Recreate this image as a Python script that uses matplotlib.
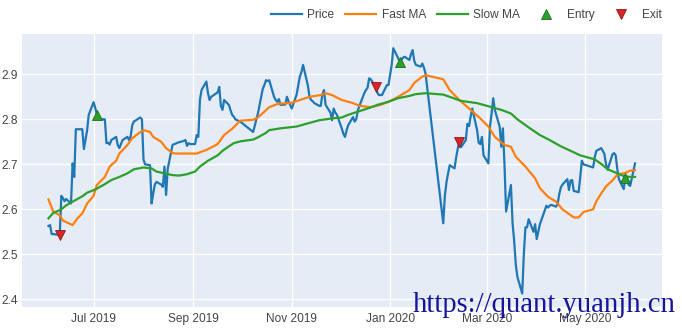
import matplotlib
matplotlib.use("Agg")
import matplotlib.pyplot as plt
import matplotlib.dates as mdates
from matplotlib.lines import Line2D
import pandas as pd

price_dates = [
    "2019-06-03", "2019-06-04", "2019-06-05", "2019-06-06", "2019-06-10", "2019-06-11", "2019-06-12",
    "2019-06-13", "2019-06-14", "2019-06-17", "2019-06-18", "2019-06-19", "2019-06-20", "2019-06-21",
    "2019-06-24", "2019-06-25", "2019-06-26", "2019-06-27", "2019-06-28", "2019-07-01", "2019-07-02",
    "2019-07-03", "2019-07-04", "2019-07-05", "2019-07-08", "2019-07-09", "2019-07-10", "2019-07-11",
    "2019-07-12", "2019-07-15", "2019-07-16", "2019-07-17", "2019-07-18", "2019-07-19", "2019-07-22",
    "2019-07-23", "2019-07-24", "2019-07-25", "2019-07-26", "2019-07-29", "2019-07-30", "2019-07-31",
    "2019-08-01", "2019-08-02", "2019-08-05", "2019-08-06", "2019-08-07", "2019-08-08", "2019-08-09",
    "2019-08-12", "2019-08-13", "2019-08-14", "2019-08-15", "2019-08-16", "2019-08-19", "2019-08-20",
    "2019-08-21", "2019-08-22", "2019-08-23", "2019-08-26", "2019-08-27", "2019-08-28", "2019-08-29",
    "2019-08-30", "2019-09-02", "2019-09-03", "2019-09-04", "2019-09-05", "2019-09-06", "2019-09-09",
    "2019-09-10", "2019-09-11", "2019-09-12", "2019-09-16", "2019-09-17", "2019-09-18", "2019-09-19",
    "2019-09-20", "2019-09-23", "2019-09-24", "2019-09-25", "2019-09-26", "2019-09-27", "2019-09-30",
    "2019-10-08", "2019-10-09", "2019-10-10", "2019-10-11", "2019-10-14", "2019-10-15", "2019-10-16",
    "2019-10-17", "2019-10-18", "2019-10-21", "2019-10-22", "2019-10-23", "2019-10-24", "2019-10-25",
    "2019-10-28", "2019-10-29", "2019-10-30", "2019-10-31", "2019-11-01", "2019-11-04", "2019-11-05",
    "2019-11-06", "2019-11-07", "2019-11-08", "2019-11-11", "2019-11-12", "2019-11-13", "2019-11-14",
    "2019-11-15", "2019-11-18", "2019-11-19", "2019-11-20", "2019-11-21", "2019-11-22", "2019-11-25",
    "2019-11-26", "2019-11-27", "2019-11-28", "2019-11-29", "2019-12-02", "2019-12-03", "2019-12-04",
    "2019-12-05", "2019-12-06", "2019-12-09", "2019-12-10", "2019-12-11", "2019-12-12", "2019-12-13",
    "2019-12-16", "2019-12-17", "2019-12-18", "2019-12-19", "2019-12-20", "2019-12-23", "2019-12-24",
    "2019-12-25", "2019-12-26", "2019-12-27", "2019-12-30", "2019-12-31", "2020-01-02", "2020-01-03",
    "2020-01-06", "2020-01-07", "2020-01-08", "2020-01-09", "2020-01-10", "2020-01-13", "2020-01-14",
    "2020-01-15", "2020-01-16", "2020-01-17", "2020-01-20", "2020-01-21", "2020-01-22", "2020-01-23",
    "2020-02-03", "2020-02-04", "2020-02-05", "2020-02-06", "2020-02-07", "2020-02-10", "2020-02-11",
    "2020-02-12", "2020-02-13", "2020-02-14", "2020-02-17", "2020-02-18", "2020-02-19", "2020-02-20",
    "2020-02-21", "2020-02-24", "2020-02-25", "2020-02-26", "2020-02-27", "2020-02-28", "2020-03-02",
    "2020-03-03", "2020-03-04", "2020-03-05", "2020-03-06", "2020-03-09", "2020-03-10", "2020-03-11",
    "2020-03-12", "2020-03-13", "2020-03-16", "2020-03-17", "2020-03-18", "2020-03-19", "2020-03-20",
    "2020-03-23", "2020-03-24", "2020-03-25", "2020-03-26", "2020-03-27", "2020-03-30", "2020-03-31",
    "2020-04-01", "2020-04-02", "2020-04-03", "2020-04-07", "2020-04-08", "2020-04-09", "2020-04-10",
    "2020-04-13", "2020-04-14", "2020-04-15", "2020-04-16", "2020-04-17", "2020-04-20", "2020-04-21",
    "2020-04-22", "2020-04-23", "2020-04-24", "2020-04-27", "2020-04-28", "2020-04-29", "2020-04-30",
    "2020-05-06", "2020-05-07", "2020-05-08", "2020-05-11", "2020-05-12", "2020-05-13", "2020-05-14",
    "2020-05-15", "2020-05-18", "2020-05-19", "2020-05-20", "2020-05-21", "2020-05-22", "2020-05-25",
    "2020-05-26", "2020-05-27", "2020-05-28", "2020-05-29", "2020-06-01",
]
price_values = [
    2.563, 2.565, 2.545, 2.545, 2.543, 2.630, 2.625,
    2.618, 2.623, 2.613, 2.702, 2.672, 2.778, 2.778,
    2.778, 2.734, 2.755, 2.776, 2.810, 2.838, 2.826,
    2.810, 2.800, 2.800, 2.800, 2.747, 2.748, 2.744,
    2.754, 2.761, 2.743, 2.736, 2.745, 2.754, 2.761,
    2.754, 2.762, 2.787, 2.795, 2.802, 2.804, 2.800,
    2.710, 2.700, 2.698, 2.613, 2.635, 2.655, 2.661,
    2.655, 2.650, 2.695, 2.632, 2.690, 2.743, 2.745,
    2.746, 2.748, 2.749, 2.752, 2.754, 2.741, 2.747,
    2.745, 2.745, 2.765, 2.761, 2.843, 2.865, 2.884,
    2.858, 2.843, 2.850, 2.860, 2.872, 2.830, 2.821,
    2.843, 2.832, 2.820, 2.810, 2.806, 2.800, 2.795,
    2.772, 2.785, 2.800, 2.813, 2.868, 2.876, 2.887,
    2.885, 2.887, 2.850, 2.843, 2.839, 2.845, 2.832,
    2.833, 2.850, 2.840, 2.832, 2.824, 2.855, 2.875,
    2.895, 2.905, 2.921, 2.875, 2.850, 2.843, 2.840,
    2.836, 2.830, 2.830, 2.855, 2.865, 2.832, 2.815,
    2.798, 2.824, 2.815, 2.810, 2.780, 2.768, 2.761,
    2.775, 2.787, 2.805, 2.795, 2.800, 2.820, 2.830,
    2.858, 2.865, 2.870, 2.891, 2.889, 2.872, 2.860,
    2.854, 2.854, 2.854, 2.876, 2.876, 2.921, 2.958,
    2.936, 2.928, 2.932, 2.937, 2.939, 2.932, 2.945,
    2.954, 2.930, 2.921, 2.917, 2.924, 2.915, 2.902,
    2.569, 2.630, 2.660, 2.680, 2.698, 2.691, 2.715,
    2.735, 2.750, 2.738, 2.754, 2.790, 2.785, 2.806,
    2.824, 2.776, 2.748, 2.745, 2.761, 2.720, 2.702,
    2.784, 2.813, 2.847, 2.821, 2.784, 2.739, 2.780,
    2.700, 2.595, 2.654, 2.570, 2.530, 2.478, 2.450,
    2.413, 2.500, 2.560, 2.560, 2.578, 2.550, 2.567,
    2.534, 2.550, 2.567, 2.608, 2.604, 2.608, 2.610,
    2.606, 2.612, 2.634, 2.649, 2.655, 2.667, 2.643,
    2.664, 2.665, 2.641, 2.638, 2.671, 2.708, 2.700,
    2.693, 2.716, 2.730, 2.736, 2.730, 2.723, 2.700,
    2.688, 2.722, 2.725, 2.720, 2.690, 2.667, 2.645,
    2.672, 2.665, 2.655, 2.652, 2.702,
]

fast_dates = [
    "2019-06-03", "2019-06-06", "2019-06-10", "2019-06-12", "2019-06-18", "2019-06-21", "2019-06-24",
    "2019-06-27", "2019-07-01", "2019-07-03", "2019-07-08", "2019-07-11", "2019-07-15", "2019-07-17",
    "2019-07-22", "2019-07-25", "2019-07-29", "2019-08-01", "2019-08-05", "2019-08-07", "2019-08-12",
    "2019-08-15", "2019-08-19", "2019-08-21", "2019-08-28", "2019-09-03", "2019-09-09", "2019-09-16",
    "2019-09-20", "2019-09-25", "2019-09-30", "2019-10-08", "2019-10-11", "2019-10-15", "2019-10-18",
    "2019-10-23", "2019-10-29", "2019-11-01", "2019-11-06", "2019-11-12", "2019-11-19", "2019-11-22",
    "2019-11-26", "2019-12-02", "2019-12-09", "2019-12-13", "2019-12-20", "2019-12-26", "2019-12-31",
    "2020-01-06", "2020-01-13", "2020-01-16", "2020-01-21", "2020-01-23", "2020-02-03", "2020-02-07",
    "2020-02-13", "2020-02-20", "2020-02-26", "2020-03-02", "2020-03-06", "2020-03-12", "2020-03-16",
    "2020-03-19", "2020-03-25", "2020-03-31", "2020-04-03", "2020-04-08", "2020-04-13", "2020-04-17",
    "2020-04-24", "2020-04-27", "2020-04-30", "2020-05-06", "2020-05-08", "2020-05-11", "2020-05-14",
    "2020-05-18", "2020-05-21", "2020-05-26", "2020-05-29", "2020-06-01",
]
fast_values = [
    2.622, 2.595, 2.587, 2.575, 2.565, 2.580, 2.591,
    2.613, 2.630, 2.654, 2.672, 2.695, 2.708, 2.724,
    2.743, 2.758, 2.769, 2.776, 2.772, 2.761, 2.750,
    2.736, 2.725, 2.724, 2.724, 2.724, 2.732, 2.745,
    2.765, 2.779, 2.797, 2.799, 2.804, 2.817, 2.827,
    2.834, 2.836, 2.837, 2.843, 2.850, 2.854, 2.858,
    2.854, 2.843, 2.836, 2.830, 2.827, 2.832, 2.839,
    2.850, 2.865, 2.881, 2.895, 2.898, 2.889, 2.865,
    2.843, 2.821, 2.802, 2.784, 2.761, 2.743, 2.739,
    2.717, 2.695, 2.669, 2.647, 2.628, 2.617, 2.600,
    2.582, 2.582, 2.594, 2.600, 2.618, 2.635, 2.651,
    2.664, 2.677, 2.681, 2.686, 2.687,
]

slow_dates = [
    "2019-06-03", "2019-06-06", "2019-06-11", "2019-06-14", "2019-06-18", "2019-06-24", "2019-06-27",
    "2019-07-02", "2019-07-08", "2019-07-12", "2019-07-17", "2019-07-22", "2019-07-26", "2019-08-01",
    "2019-08-06", "2019-08-09", "2019-08-14", "2019-08-19", "2019-08-23", "2019-08-28", "2019-09-02",
    "2019-09-05", "2019-09-10", "2019-09-16", "2019-09-19", "2019-09-23", "2019-09-26", "2019-09-30",
    "2019-10-08", "2019-10-11", "2019-10-16", "2019-10-18", "2019-10-25", "2019-11-04", "2019-11-11",
    "2019-11-18", "2019-11-26", "2019-12-02", "2019-12-06", "2019-12-12", "2019-12-18", "2019-12-24",
    "2019-12-31", "2020-01-06", "2020-01-13", "2020-01-17", "2020-01-23", "2020-02-03", "2020-02-07",
    "2020-02-14", "2020-02-24", "2020-03-03", "2020-03-10", "2020-03-16", "2020-03-20", "2020-03-27",
    "2020-04-03", "2020-04-09", "2020-04-16", "2020-04-22", "2020-04-28", "2020-05-07", "2020-05-11",
    "2020-05-15", "2020-05-21", "2020-05-25", "2020-05-29", "2020-06-01",
]
slow_values = [
    2.580, 2.592, 2.600, 2.609, 2.617, 2.629, 2.637,
    2.644, 2.656, 2.665, 2.672, 2.680, 2.689, 2.693,
    2.691, 2.684, 2.680, 2.676, 2.675, 2.678, 2.684,
    2.695, 2.708, 2.720, 2.730, 2.740, 2.747, 2.751,
    2.755, 2.760, 2.770, 2.776, 2.780, 2.784, 2.791,
    2.798, 2.802, 2.804, 2.810, 2.817, 2.824, 2.832,
    2.839, 2.847, 2.852, 2.856, 2.858, 2.855, 2.850,
    2.841, 2.836, 2.828, 2.821, 2.813, 2.800, 2.782,
    2.765, 2.754, 2.740, 2.730, 2.720, 2.711, 2.701,
    2.689, 2.680, 2.674, 2.672, 2.672,
]

entry_dates = ["2019-07-03", "2020-01-07", "2020-05-26"]
entry_values = [2.810, 2.928, 2.670]
exit_dates = ["2019-06-10", "2019-12-23", "2020-02-13"]
exit_values = [2.543, 2.872, 2.750]

tick_dates = ["2019-07-01", "2019-09-01", "2019-11-01", "2020-01-01", "2020-03-01", "2020-05-01"]
tick_labels = ["Jul 2019", "Sep 2019", "Nov 2019", "Jan 2020", "Mar 2020", "May 2020"]
y_ticks = [2.4, 2.5, 2.6, 2.7, 2.8, 2.9]

watermark = "https://quant.yuanjh.cn"

C_PRICE = "#1f77b4"
C_FAST = "#ff7f0e"
C_SLOW = "#2ca02c"
C_ENTRY = "#2ca02c"
C_EXIT = "#d62728"
TXT = "#444444"

plt.rcParams["font.family"] = ["Liberation Sans", "DejaVu Sans"]

W, H = 682, 328
fig = plt.figure(figsize=(W / 100, H / 100), dpi=100)
L, R, T, B = 22, 662, 34, 307
ax = fig.add_axes([L / W, 1 - B / H, (R - L) / W, (B - T) / H])
ax.set_facecolor("#E5ECF6")
for s in ax.spines.values():
    s.set_visible(False)

to_dt = lambda lst: pd.to_datetime(lst)

lw = 1.6
ax.plot(to_dt(price_dates), price_values, color=C_PRICE, lw=lw, zorder=3, solid_joinstyle="round")
ax.plot(to_dt(fast_dates), fast_values, color=C_FAST, lw=lw, zorder=3)
ax.plot(to_dt(slow_dates), slow_values, color=C_SLOW, lw=lw, zorder=3)
ax.plot(to_dt(entry_dates), entry_values, ls="none", marker="^", ms=7.5, color=C_ENTRY,
        mec="#1d6b1d", mew=0.6, zorder=4)
ax.plot(to_dt(exit_dates), exit_values, ls="none", marker="v", ms=7.5, color=C_EXIT,
        mec="#8b1a1a", mew=0.6, zorder=4)

ax.set_xlim(pd.Timestamp("2019-05-17 14:00"), pd.Timestamp("2020-06-17 18:00"))
ax.set_ylim(2.383, 2.9896)

ax.set_xticks(to_dt(tick_dates))
ax.set_xticklabels(tick_labels)
ax.set_yticks(y_ticks)
ax.set_yticklabels([f"{v:.1f}" for v in y_ticks])
ax.grid(True, color="white", lw=1.0, zorder=0)
ax.set_axisbelow(True)
ax.tick_params(axis="both", length=0, labelsize=8.6, colors=TXT)
ax.tick_params(axis="x", pad=4)
ax.tick_params(axis="y", pad=3)

handles = [
    Line2D([], [], color=C_PRICE, lw=lw),
    Line2D([], [], color=C_FAST, lw=lw),
    Line2D([], [], color=C_SLOW, lw=lw),
    Line2D([], [], ls="none", marker="^", ms=7.5, color=C_ENTRY, mec="#1d6b1d", mew=0.6),
    Line2D([], [], ls="none", marker="v", ms=7.5, color=C_EXIT, mec="#8b1a1a", mew=0.6),
]
labels = ["Price", "Fast MA", "Slow MA", "Entry", "Exit"]
leg = fig.legend(handles, labels, loc="center right", bbox_to_anchor=(662 / W, 1 - 15 / H),
                 ncol=5, frameon=False, fontsize=8.6, handlelength=2.6, handletextpad=0.45,
                 columnspacing=0.9, borderaxespad=0, borderpad=0)
for t in leg.get_texts():
    t.set_color(TXT)

fig.text(413 / W, 1 - 312 / H, watermark, fontsize=20.6, color="#16169a",
         family=["Liberation Serif", "DejaVu Serif"], ha="left", va="baseline", zorder=10)

fig.savefig("out.png", dpi=100, facecolor="white")
